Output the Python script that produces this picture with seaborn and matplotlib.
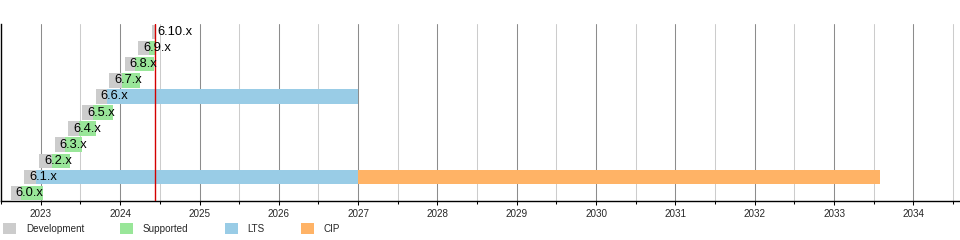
import matplotlib
matplotlib.use("Agg")
import matplotlib.pyplot as plt
import matplotlib.dates as mdates
from matplotlib.patches import Patch
import pandas as pd
import seaborn as sns

# ---- data ----
versions = ["6.0.x", "6.1.x", "6.2.x", "6.3.x", "6.4.x", "6.5.x",
            "6.6.x", "6.7.x", "6.8.x", "6.9.x", "6.10.x"]
dev_start = ["2022-08-14", "2022-10-16", "2022-12-25", "2023-03-05", "2023-05-07",
             "2023-07-09", "2023-09-10", "2023-11-12", "2024-01-21", "2024-03-24",
             "2024-05-26"]
release = ["2022-10-02", "2022-12-11", "2023-02-19", "2023-04-23", "2023-06-25",
           "2023-08-27", "2023-10-30", "2024-01-07", "2024-03-10", "2024-05-12",
           None]
supported_end = ["2023-01-12", None, "2023-05-17", "2023-07-11", "2023-09-13",
                 "2023-11-28", None, "2024-04-03", "2024-06-04", "2024-06-10",
                 None]
lts_end = [None, "2026-12-31", None, None, None, None, "2026-12-31", None, None,
           None, None]
cip_end = [None, "2033-08-01", None, None, None, None, None, None, None, None,
           None]
today = "2024-06-10"
phases = ["Development", "Supported", "LTS", "CIP"]
phase_colors = ["#cccccc", "#99e699", "#99cce6", "#ffb366"]
x_start, x_end = "2022-07-01", "2034-08-01"

# ---- build segment table ----
rows = []
for i, v in enumerate(versions):
    rel = release[i] if release[i] else today
    rows.append((i, v, "Development", dev_start[i], rel))
    if supported_end[i]:
        rows.append((i, v, "Supported", release[i], supported_end[i]))
    if lts_end[i]:
        rows.append((i, v, "LTS", release[i], lts_end[i]))
    if cip_end[i]:
        rows.append((i, v, "CIP", lts_end[i], cip_end[i]))
seg = pd.DataFrame(rows, columns=["row", "version", "phase", "start", "end"])
seg["start_n"] = mdates.date2num(pd.to_datetime(seg["start"]))
seg["end_n"] = mdates.date2num(pd.to_datetime(seg["end"]))
cmap = dict(zip(phases, phase_colors))

# ---- style ----
sns.set_theme(style="white")
plt.rcParams["font.family"] = ["Liberation Sans", "DejaVu Sans"]

fig = plt.figure(figsize=(9.6, 2.4), dpi=100)
ax = fig.add_axes([1 / 960, 39 / 240, 958.5 / 960, 177 / 240])

for _, r in seg.iterrows():
    ax.barh(r["row"], r["end_n"] - r["start_n"], left=r["start_n"], height=0.9,
            color=cmap[r["phase"]], linewidth=0, zorder=2)

for i, v in enumerate(versions):
    ax.annotate(v, (mdates.date2num(pd.Timestamp(dev_start[i])), i),
                xytext=(5, 0), textcoords="offset pixels",
                ha="left", va="center", fontsize=9.3, color="black", zorder=4)

ax.axvline(mdates.date2num(pd.Timestamp(today)), color="#d40000", lw=1, zorder=3)

ax.set_xlim(mdates.date2num(pd.Timestamp(x_start)), mdates.date2num(pd.Timestamp(x_end)))
ax.set_ylim(-0.5, len(versions) - 0.5)
ax.xaxis.set_major_locator(mdates.YearLocator())
ax.xaxis.set_minor_locator(mdates.MonthLocator(bymonth=7))
ax.xaxis.set_major_formatter(mdates.DateFormatter("%Y"))
ax.set_yticks([])
ax.grid(False)
ax.grid(which="major", axis="x", color="#8c8c8c", lw=0.75, zorder=0)
ax.grid(which="minor", axis="x", color="#cccccc", lw=0.75, zorder=0)
ax.set_axisbelow(True)

for s in ["top", "right"]:
    ax.spines[s].set_visible(False)
for s in ["left", "bottom"]:
    ax.spines[s].set_color("black")
    ax.spines[s].set_linewidth(1.0)

ax.tick_params(axis="x", which="major", length=2.9, width=0.75, color="black",
               direction="out", labelsize=7.1, pad=3.2, bottom=True)
ax.tick_params(axis="x", which="minor", length=1.8, width=0.75, color="black",
               direction="out", bottom=True)

handles = [Patch(facecolor=c, edgecolor="none") for c in phase_colors]
fig.legend(handles, phases, loc="center left",
           bbox_to_anchor=(3 / 960, 1 - 228.5 / 240), ncol=4, frameon=False,
           fontsize=7.1, handlelength=1.32, handleheight=1.32,
           handletextpad=1.0, columnspacing=3.65, borderpad=0, borderaxespad=0)

fig.savefig("out.png", dpi=100)
